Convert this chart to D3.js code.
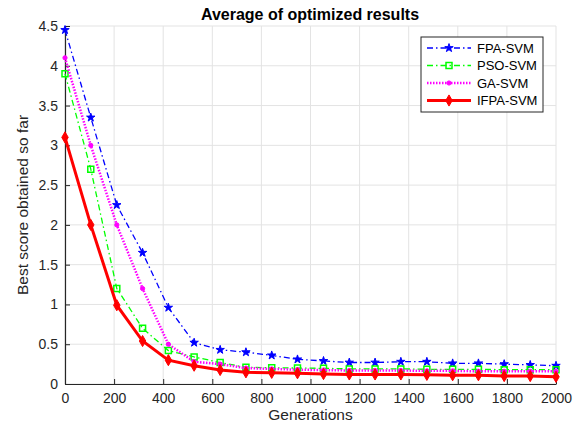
<!DOCTYPE html>
<html><head><meta charset="utf-8">
<script src="https://cdn.jsdelivr.net/npm/d3@7"></script>
<style>body{margin:0;background:#fff}svg{display:block}text{font-family:"Liberation Sans",Arial,sans-serif}</style>
</head><body><svg id="c" width="583" height="427"></svg>
<script>
const generations = [0,105,211,316,421,526,632,737,842,947,1053,1158,1263,1368,1474,1579,1684,1789,1895,2000];
const fpaSVM  = [4.45,3.35,2.25,1.65,0.96,0.52,0.43,0.40,0.36,0.31,0.29,0.27,0.27,0.28,0.28,0.26,0.26,0.25,0.24,0.23];
const psoSVM  = [3.90,2.70,1.20,0.70,0.42,0.34,0.27,0.21,0.205,0.20,0.197,0.19,0.19,0.19,0.185,0.185,0.185,0.18,0.18,0.18];
const gaSVM   = [4.10,3.00,2.00,1.20,0.50,0.28,0.25,0.20,0.19,0.18,0.175,0.17,0.17,0.17,0.165,0.165,0.16,0.16,0.16,0.16];
const ifpaSVM = [3.10,2.00,0.99,0.54,0.30,0.23,0.176,0.147,0.14,0.135,0.125,0.12,0.12,0.12,0.115,0.11,0.11,0.10,0.10,0.09];
const xTicks = [0,200,400,600,800,1000,1200,1400,1600,1800,2000];
const yTicks = [0,0.5,1,1.5,2,2.5,3,3.5,4,4.5];
const seriesNames = ["FPA-SVM","PSO-SVM","GA-SVM","IFPA-SVM"];

const svg = d3.select("#c");
const L=65,R=556,T=26,B=384;
const x = d3.scaleLinear().domain([0,2000]).range([L,R]);
const y = d3.scaleLinear().domain([0,4.5]).range([B,T]);

// grid
const g = svg.append("g");
g.selectAll(".gx").data(xTicks).join("line").attr("x1",d=>x(d)).attr("x2",d=>x(d)).attr("y1",T).attr("y2",B).attr("stroke","#e3e3e3");
g.selectAll(".gy").data(yTicks).join("line").attr("x1",L).attr("x2",R).attr("y1",d=>y(d)).attr("y2",d=>y(d)).attr("stroke","#e3e3e3");

// axes
const xa = svg.append("g").attr("transform",`translate(0,${B})`).call(d3.axisBottom(x).tickValues(xTicks).tickSizeInner(-5).tickSizeOuter(0).tickPadding(9).tickFormat(d3.format("d")));
const ya = svg.append("g").attr("transform",`translate(${L},0)`).call(d3.axisLeft(y).tickValues(yTicks).tickSizeInner(-5).tickSizeOuter(0).tickPadding(7).tickFormat(d=>String(d)));
[xa,ya].forEach(a=>{a.select(".domain").attr("stroke","#262626").attr("stroke-width",1.2);a.selectAll(".tick line").attr("stroke","#262626");a.selectAll("text").attr("font-size",14).attr("fill","#262626").attr("font-family","Liberation Sans, Arial, sans-serif");});

const styles = [
  {data:fpaSVM,color:"#0000ff",w:1.3,dash:"6,3,1.5,3",sym:d3.symbolStar,size:22,fill:true},
  {data:psoSVM,color:"#00ff00",w:1.3,dash:"6,3,1.5,3",sym:d3.symbolSquare,size:36,fill:false},
  {data:gaSVM,color:"#ff00ff",w:2.5,dash:"1.5,1.5",sym:d3.symbolCircle,size:14,fill:true},
  {data:ifpaSVM,color:"#ff0000",w:3,dash:null,sym:d3.symbolDiamond,size:36,fill:true}
];
const line = d3.line().x((d,i)=>x(generations[i])).y(d=>y(d));
styles.forEach(s=>{
  svg.append("path").datum(s.data).attr("d",line).attr("fill","none").attr("stroke",s.color).attr("stroke-width",s.w).attr("stroke-dasharray",s.dash);
  svg.append("g").selectAll("path").data(s.data).join("path")
    .attr("transform",(d,i)=>`translate(${x(generations[i])},${y(d)})`)
    .attr("d",d3.symbol().type(s.sym).size(s.size))
    .attr("fill",s.fill?s.color:"none").attr("stroke",s.color).attr("stroke-width",s.fill?1:1.5);
});

// title & labels
svg.append("text").attr("x",310).attr("y",20).attr("text-anchor","middle").attr("font-size",16).attr("font-weight","bold").text("Average of optimized results");
svg.append("text").attr("x",(L+R)/2).attr("y",420).attr("text-anchor","middle").attr("font-size",15.5).attr("fill","#262626").text("Generations");
svg.append("text").attr("transform",`translate(28,${(T+B)/2}) rotate(-90)`).attr("text-anchor","middle").attr("font-size",15.5).attr("fill","#262626").text("Best score obtained so far");

// legend
const lg = svg.append("g");
lg.append("rect").attr("x",421).attr("y",37).attr("width",122).attr("height",75).attr("fill","#fff").attr("stroke","#262626").attr("stroke-width",1);
styles.forEach((s,i)=>{
  const yy = 48 + i*17.5;
  lg.append("line").attr("x1",427).attr("x2",471).attr("y1",yy).attr("y2",yy).attr("stroke",s.color).attr("stroke-width",s.w).attr("stroke-dasharray",s.dash);
  lg.append("path").attr("transform",`translate(449,${yy})`).attr("d",d3.symbol().type(s.sym).size(s.size)).attr("fill",s.fill?s.color:"none").attr("stroke",s.color).attr("stroke-width",s.fill?1:1.5);
  lg.append("text").attr("x",477).attr("y",yy+4.5).attr("font-size",13).attr("fill","#000").text(seriesNames[i]);
});
</script></body></html>
